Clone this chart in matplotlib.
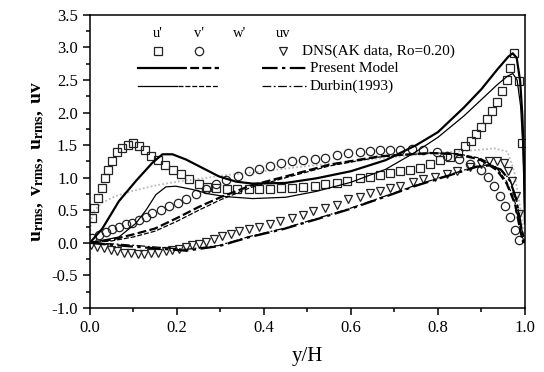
import numpy as np
import matplotlib
matplotlib.use("Agg")
import matplotlib.pyplot as plt
from matplotlib.lines import Line2D

plt.rcParams['font.family'] = ['Liberation Serif', 'DejaVu Serif']
plt.rcParams['mathtext.fontset'] = 'custom'
plt.rcParams['mathtext.rm'] = 'Liberation Serif'
plt.rcParams['mathtext.it'] = 'Liberation Serif:italic'
plt.rcParams['mathtext.bf'] = 'Liberation Serif:bold'

# ---------- DNS data (AK, Ro=0.20) ----------
u_dns_x = [0.006, 0.01, 0.02, 0.027, 0.035, 0.043, 0.052, 0.063, 0.075, 0.087, 0.10, 0.113,
           0.127, 0.14, 0.156, 0.173, 0.191, 0.209, 0.228, 0.251, 0.27, 0.29, 0.316, 0.339,
           0.366, 0.39, 0.414, 0.44, 0.464, 0.49, 0.517, 0.54, 0.567, 0.59, 0.62, 0.643,
           0.667, 0.69, 0.713, 0.735, 0.758, 0.782, 0.805, 0.828, 0.847, 0.862, 0.876, 0.888,
           0.90, 0.912, 0.924, 0.936, 0.948, 0.958, 0.966, 0.975, 0.986, 0.994]
u_dns_y = [0.38, 0.54, 0.69, 0.85, 0.99, 1.12, 1.26, 1.39, 1.46, 1.51, 1.53, 1.49,
           1.43, 1.34, 1.27, 1.20, 1.12, 1.05, 0.98, 0.90, 0.86, 0.85, 0.83, 0.82,
           0.82, 0.82, 0.83, 0.84, 0.85, 0.86, 0.88, 0.90, 0.92, 0.95, 0.99, 1.01,
           1.04, 1.08, 1.10, 1.12, 1.15, 1.21, 1.27, 1.32, 1.38, 1.48, 1.57, 1.67,
           1.78, 1.90, 2.03, 2.17, 2.33, 2.50, 2.68, 2.92, 2.48, 1.53]

v_dns_x = [0.006, 0.021, 0.037, 0.052, 0.067, 0.083, 0.098, 0.113, 0.129, 0.144, 0.163,
           0.182, 0.202, 0.221, 0.244, 0.267, 0.29, 0.313, 0.34, 0.367, 0.39, 0.414, 0.44,
           0.464, 0.49, 0.517, 0.54, 0.567, 0.593, 0.62, 0.643, 0.667, 0.69, 0.713, 0.74,
           0.766, 0.797, 0.822, 0.848, 0.874, 0.898, 0.915, 0.929, 0.943, 0.955, 0.966,
           0.977, 0.986]
v_dns_y = [0.07, 0.12, 0.17, 0.21, 0.25, 0.29, 0.31, 0.35, 0.39, 0.46, 0.51,
           0.56, 0.61, 0.67, 0.75, 0.83, 0.90, 0.97, 1.03, 1.10, 1.14, 1.18, 1.22,
           1.25, 1.27, 1.29, 1.31, 1.35, 1.38, 1.39, 1.41, 1.42, 1.42, 1.43, 1.44,
           1.42, 1.39, 1.34, 1.28, 1.21, 1.12, 1.01, 0.88, 0.72, 0.57, 0.40,
           0.20, 0.04]

w_dns_x = [0.0, 0.003, 0.01, 0.03, 0.06, 0.10, 0.15, 0.20, 0.25, 0.30, 0.40, 0.50, 0.60,
           0.70, 0.80, 0.88, 0.93, 0.96, 0.975, 0.99, 1.0]
w_dns_y = [0.0, 0.35, 0.50, 0.62, 0.72, 0.80, 0.88, 0.94, 0.98, 1.03, 1.10, 1.18, 1.25,
           1.32, 1.38, 1.42, 1.45, 1.40, 1.10, 0.50, 0.0]

uv_dns_x = [0.002, 0.017, 0.033, 0.048, 0.063, 0.079, 0.094, 0.11, 0.125, 0.14, 0.156,
            0.175, 0.19, 0.205, 0.221, 0.236, 0.251, 0.267, 0.286, 0.305, 0.324, 0.344,
            0.367, 0.39, 0.414, 0.437, 0.464, 0.49, 0.513, 0.54, 0.567, 0.593, 0.62,
            0.643, 0.667, 0.69, 0.713, 0.743, 0.766, 0.793, 0.82, 0.843, 0.874, 0.898,
            0.918, 0.935, 0.951, 0.962, 0.971, 0.979, 0.987]
uv_dns_y = [-0.04, -0.06, -0.08, -0.11, -0.13, -0.15, -0.16, -0.17, -0.17, -0.16, -0.15,
            -0.13, -0.11, -0.09, -0.07, -0.04, -0.01, 0.01, 0.06, 0.10, 0.14, 0.18,
            0.22, 0.25, 0.29, 0.34, 0.38, 0.43, 0.49, 0.53, 0.58, 0.67, 0.71,
            0.77, 0.80, 0.85, 0.88, 0.93, 0.98, 1.01, 1.05, 1.10, 1.16, 1.21,
            1.25, 1.26, 1.22, 1.10, 0.95, 0.72, 0.45]

# ---------- Present model ----------
pm_u_x = [0.0, 0.029, 0.067, 0.106, 0.144, 0.167, 0.19, 0.221, 0.259, 0.297, 0.336, 0.374,
          0.45, 0.52, 0.60, 0.68, 0.75, 0.80, 0.86, 0.90, 0.935, 0.962, 0.972, 0.981,
          0.989, 0.994, 0.998, 1.0]
pm_u_y = [0.0, 0.22, 0.64, 0.95, 1.23, 1.36, 1.36, 1.28, 1.15, 1.02, 0.94, 0.91,
          0.92, 0.99, 1.10, 1.27, 1.50, 1.70, 2.08, 2.36, 2.65, 2.86, 2.91, 2.84,
          2.48, 1.96, 1.19, 0.30]
pm_v_x = [0.0, 0.05, 0.10, 0.15, 0.20, 0.25, 0.30, 0.37, 0.45, 0.55, 0.667, 0.782, 0.843,
          0.897, 0.935, 0.958, 0.977, 0.989, 0.996]
pm_v_y = [0.0, 0.05, 0.13, 0.22, 0.38, 0.55, 0.70, 0.88, 1.02, 1.20, 1.33, 1.38, 1.36,
          1.28, 1.12, 0.91, 0.60, 0.20, 0.0]
pm_uv_x = [0.0, 0.067, 0.144, 0.221, 0.297, 0.368, 0.444, 0.52, 0.598, 0.675, 0.751, 0.828,
           0.89, 0.92, 0.945, 0.966, 0.98, 0.992, 1.0]
pm_uv_y = [0.0, -0.04, -0.08, -0.12, -0.05, 0.09, 0.21, 0.36, 0.52, 0.70, 0.88, 1.04,
           1.17, 1.19, 1.12, 0.95, 0.67, 0.22, 0.0]

# ---------- Durbin (1993) ----------
db_u_x = [0.0, 0.067, 0.106, 0.13, 0.152, 0.175, 0.198, 0.236, 0.275, 0.313, 0.374, 0.45,
          0.52, 0.60, 0.68, 0.75, 0.80, 0.86, 0.90, 0.935, 0.96, 0.972, 0.982, 0.99,
          0.995, 1.0]
db_u_y = [0.0, 0.09, 0.30, 0.51, 0.74, 0.86, 0.87, 0.82, 0.75, 0.71, 0.68, 0.70,
          0.79, 0.93, 1.13, 1.40, 1.62, 1.95, 2.20, 2.42, 2.56, 2.60, 2.50, 2.10,
          1.50, 0.30]
db_v_x = [0.0, 0.05, 0.10, 0.15, 0.20, 0.25, 0.30, 0.37, 0.45, 0.55, 0.667, 0.782, 0.843,
          0.897, 0.935, 0.958, 0.977, 0.989, 0.996]
db_v_y = [0.0, 0.03, 0.09, 0.18, 0.33, 0.50, 0.66, 0.85, 1.00, 1.18, 1.32, 1.38, 1.37,
          1.30, 1.15, 0.94, 0.63, 0.22, 0.0]
db_uv_x = [0.0, 0.067, 0.144, 0.221, 0.297, 0.368, 0.444, 0.52, 0.598, 0.675, 0.751, 0.828,
           0.89, 0.92, 0.945, 0.966, 0.98, 0.992, 1.0]
db_uv_y = [0.0, -0.02, -0.06, -0.10, -0.04, 0.10, 0.22, 0.37, 0.53, 0.71, 0.89, 1.05,
           1.18, 1.20, 1.13, 0.96, 0.68, 0.23, 0.0]

col_heads = ["u'", "v'", "w'", "uv"]
row_labels = ["DNS(AK data, Ro=0.20)", "Present Model", "Durbin(1993)"]

# ---------- PLOT ----------
fig = plt.figure(figsize=(5.44, 3.72), dpi=100)
ax = fig.add_axes([0.165, 0.172, 0.800, 0.788])

mk = dict(linestyle='none', markerfacecolor='none', markeredgecolor='#222222',
          markersize=6, markeredgewidth=0.9)
dd = (0, (7, 2, 1.5, 2))
ds = (0, (4, 1.5))

ax.plot(w_dns_x, w_dns_y, color='#bbbbbb', lw=1.3, linestyle=(0, (1, 1.2)))
ax.plot(u_dns_x, u_dns_y, marker='s', **mk)
ax.plot(v_dns_x, v_dns_y, marker='o', **mk)
ax.plot(uv_dns_x, uv_dns_y, marker='v', **mk)

ax.plot(pm_u_x, pm_u_y, color='black', lw=1.6)
ax.plot(pm_v_x, pm_v_y, color='black', lw=1.6, linestyle=ds)
ax.plot(pm_uv_x, pm_uv_y, color='black', lw=1.6, linestyle=dd)
ax.plot(db_u_x, db_u_y, color='black', lw=0.9)
ax.plot(db_v_x, db_v_y, color='black', lw=0.9, linestyle=ds)
ax.plot(db_uv_x, db_uv_y, color='black', lw=0.9, linestyle=dd)

# hand-built legend block
hx = [0.157, 0.250, 0.345, 0.445]
for x, t in zip(hx, col_heads):
    ax.text(x, 0.935, t, transform=ax.transAxes, ha='center', va='center', fontsize=10.5)
for x, m in zip([hx[0], hx[1], hx[3]], ['s', 'o', 'v']):
    ax.add_line(Line2D([x], [0.876], transform=ax.transAxes, marker=m, **mk))
for yy, lw in [(0.818, 1.6), (0.758, 0.9)]:
    ax.add_line(Line2D([0.111, 0.200], [yy, yy], transform=ax.transAxes, color='black', lw=lw))
    ax.add_line(Line2D([0.203, 0.296], [yy, yy], transform=ax.transAxes, color='black', lw=lw, linestyle=ds))
    ax.add_line(Line2D([0.395, 0.497], [yy, yy], transform=ax.transAxes, color='black', lw=lw, linestyle=dd))
for yy, t in zip([0.876, 0.818, 0.758], row_labels):
    ax.text(0.487 if yy > 0.85 else 0.505, yy, t, transform=ax.transAxes,
            ha='left', va='center', fontsize=11)

ax.set_xlim(0, 1)
ax.set_ylim(-1, 3.5)
ax.set_xticks(np.arange(0, 1.01, 0.2))
ax.set_xticks(np.arange(0.1, 1.0, 0.2), minor=True)
ax.set_yticks(np.arange(-1, 3.51, 0.5))
ax.set_yticks(np.arange(-0.75, 3.5, 0.5), minor=True)
ax.xaxis.set_major_formatter(matplotlib.ticker.FormatStrFormatter('%.1f'))
ax.yaxis.set_major_formatter(matplotlib.ticker.FormatStrFormatter('%.1f'))
ax.tick_params(which='both', direction='out', width=1.1, labelsize=12, top=False, right=False)
ax.tick_params(which='major', length=5)
ax.tick_params(which='minor', length=3)
for s in ax.spines.values():
    s.set_linewidth(1.1)

ax.set_xlabel('y/H', fontsize=15, labelpad=8)
ax.set_ylabel(r'$\mathbf{u_{rms},\ v_{rms},\ u_{rms},\ uv}$', fontsize=14, labelpad=4)

plt.savefig('out.png', dpi=100)
